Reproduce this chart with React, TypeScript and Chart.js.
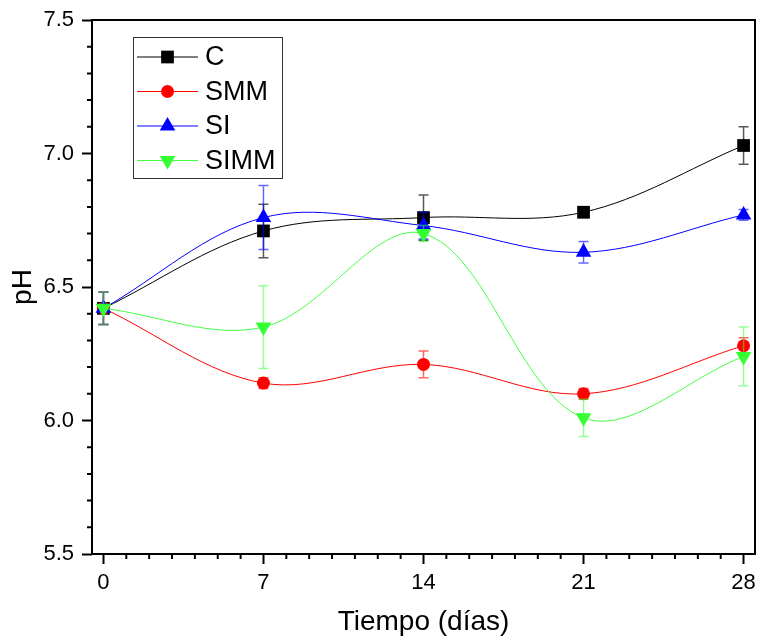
import React, { useEffect, useRef } from 'react';
import { Chart, registerables } from 'chart.js';

Chart.register(...registerables);

const days = [0, 7, 14, 21, 28];
const seriesNames = ['C', 'SMM', 'SI', 'SIMM'];
const cValues = [6.42, 6.71, 6.76, 6.78, 7.03];
const cErrors = [0.06, 0.1, 0.085, 0.02, 0.07];
const smmValues = [6.42, 6.14, 6.21, 6.1, 6.28];
const smmErrors = [0.06, 0.02, 0.05, 0.02, 0.03];
const siValues = [6.42, 6.76, 6.73, 6.63, 6.77];
const siErrors = [0.06, 0.12, 0.05, 0.04, 0.02];
const simmValues = [6.42, 6.35, 6.7, 6.01, 6.24];
const simmErrors = [0.06, 0.155, 0.03, 0.07, 0.11];
const xTicks = [0, 7, 14, 21, 28];
const yTicks = [5.5, 6.0, 6.5, 7.0, 7.5];

const lineColors = ['#000000', '#ff0000', '#0000ff', '#44ff44'];
const markerColors = ['#000000', '#ff0000', '#0000ff', '#33ff33'];
const errorColors = ['rgba(0,0,0,0.65)', 'rgba(255,0,0,0.6)', 'rgba(0,0,255,0.6)', 'rgba(60,255,60,0.55)'];
const pointStyles = ['rect', 'circle', 'triangle', 'triangle'];
const pointRadii = [9, 6.5, 9, 9];
const pointRotations = [0, 0, 0, 180];

const FONT = '"Liberation Sans", Arial, sans-serif';

const valueSets = [cValues, smmValues, siValues, simmValues];
const errorSets = [cErrors, smmErrors, siErrors, simmErrors];

function drawMarker(ctx: CanvasRenderingContext2D, idx: number, x: number, y: number) {
  ctx.fillStyle = markerColors[idx];
  ctx.beginPath();
  const r = pointRadii[idx];
  if (pointStyles[idx] === 'rect') {
    const s = r * Math.SQRT1_2;
    ctx.rect(x - s, y - s, 2 * s, 2 * s);
  } else if (pointStyles[idx] === 'circle') {
    ctx.arc(x, y, r, 0, Math.PI * 2);
  } else {
    const dir = pointRotations[idx] === 180 ? -1 : 1;
    for (let k = 0; k < 3; k++) {
      const ang = -Math.PI / 2 + (k * 2 * Math.PI) / 3;
      const px = x + Math.cos(ang) * r;
      const py = y + Math.sin(ang) * r * dir;
      if (k === 0) ctx.moveTo(px, py);
      else ctx.lineTo(px, py);
    }
    ctx.closePath();
  }
  ctx.fill();
}

const errorBarPlugin = {
  id: 'errorBars',
  afterDatasetDraw(chart: any, args: any) {
    const di = args.index;
    const { ctx, scales } = chart;
    const xs = scales.x;
    const ys = scales.y;
    const errs = errorSets[di];
    const vals = valueSets[di];
    ctx.save();
    ctx.strokeStyle = errorColors[di];
    ctx.lineWidth = 1.5;
    days.forEach((d, i) => {
      const px = xs.getPixelForValue(d);
      const yt = ys.getPixelForValue(vals[i] + errs[i]);
      const yb = ys.getPixelForValue(vals[i] - errs[i]);
      ctx.beginPath();
      ctx.moveTo(px, yt);
      ctx.lineTo(px, yb);
      ctx.moveTo(px - 5, yt);
      ctx.lineTo(px + 5, yt);
      ctx.moveTo(px - 5, yb);
      ctx.lineTo(px + 5, yb);
      ctx.stroke();
    });
    ctx.restore();
  },
};

const framePlugin = {
  id: 'frameLegend',
  afterDraw(chart: any) {
    const { ctx, chartArea: a, scales } = chart;
    const xs = scales.x;
    const ys = scales.y;
    ctx.save();
    ctx.strokeStyle = '#000';
    ctx.lineWidth = 2;
    ctx.strokeRect(a.left, a.top, a.right - a.left, a.bottom - a.top);
    ctx.beginPath();
    for (let v = 1; v < 28; v++) {
      if (v % 7 === 0) continue;
      const px = xs.getPixelForValue(v);
      ctx.moveTo(px, a.bottom);
      ctx.lineTo(px, a.bottom + 5);
    }
    for (let k = 1; k < 20; k++) {
      if (k % 5 === 0) continue;
      const v = 5.5 + k * 0.1;
      const py = ys.getPixelForValue(v);
      ctx.moveTo(a.left, py);
      ctx.lineTo(a.left - 5, py);
    }
    ctx.stroke();

    // legend
    const bx = 133, by = 37, bw = 149, bh = 141;
    ctx.fillStyle = '#fff';
    ctx.fillRect(bx, by, bw, bh);
    ctx.strokeStyle = '#333';
    ctx.lineWidth = 1;
    ctx.strokeRect(bx + 0.5, by + 0.5, bw, bh);
    seriesNames.forEach((name, i) => {
      const cy = 57 + i * 34.5;
      ctx.strokeStyle = lineColors[i];
      ctx.lineWidth = 1;
      ctx.beginPath();
      ctx.moveTo(137, cy);
      ctx.lineTo(198, cy);
      ctx.stroke();
      drawMarker(ctx, i, 167.5, cy);
      ctx.fillStyle = '#000';
      ctx.font = `27px ${FONT}`;
      ctx.textAlign = 'left';
      ctx.textBaseline = 'middle';
      ctx.fillText(name, 205, cy + 1);
    });
    ctx.restore();
  },
};

export default function App() {
  const ref = useRef<HTMLCanvasElement>(null);
  useEffect(() => {
    document.body.style.margin = '0';
    const datasets = seriesNames.map((name, i) => ({
      label: name,
      data: days.map((d, j) => ({ x: d, y: valueSets[i][j] })),
      borderColor: lineColors[i],
      backgroundColor: markerColors[i],
      borderWidth: 1,
      pointStyle: pointStyles[i],
      pointRadius: pointRadii[i],
      pointRotation: pointRotations[i],
      pointBorderWidth: 0,
      pointBackgroundColor: markerColors[i],
      tension: 0.35,
      fill: false,
      order: seriesNames.length - 1 - i,
    }));
    const chart = new Chart(ref.current!, {
      type: 'line',
      data: { datasets },
      plugins: [errorBarPlugin, framePlugin],
      options: {
        animation: false,
        responsive: false,
        layout: { autoPadding: false, padding: { top: 20, right: 2, left: 0, bottom: 0 } },
        plugins: { legend: { display: false }, tooltip: { enabled: false } },
        scales: {
          x: {
            type: 'linear',
            min: -0.5,
            max: 28.5,
            afterBuildTicks: (s: any) => {
              s.ticks = xTicks.map((v) => ({ value: v }));
            },
            afterFit: (s: any) => {
              s.height = 85;
              s.paddingLeft = 0;
              s.paddingRight = 0;
            },
            ticks: {
              color: '#000',
              font: { family: FONT, size: 22 },
              padding: 6,
              maxRotation: 0,
              autoSkip: false,
              callback: (v: any) => String(v),
            },
            grid: { display: true, drawOnChartArea: false, drawTicks: true, tickLength: 10, tickWidth: 2, tickColor: '#000' },
            border: { display: false },
            title: {
              display: true,
              text: 'Tiempo (días)',
              color: '#000',
              font: { family: FONT, size: 28 },
              padding: { top: 0, bottom: 0 },
            },
          },
          y: {
            type: 'linear',
            min: 5.5,
            max: 7.5,
            afterBuildTicks: (s: any) => {
              s.ticks = yTicks.map((v) => ({ value: v }));
            },
            afterFit: (s: any) => {
              s.width = 92;
              s.paddingTop = 0;
              s.paddingBottom = 0;
            },
            ticks: {
              color: '#000',
              font: { family: FONT, size: 22 },
              padding: 8,
              autoSkip: false,
              callback: (v: any) => Number(v).toFixed(1),
            },
            grid: { display: true, drawOnChartArea: false, drawTicks: true, tickLength: 10, tickWidth: 2, tickColor: '#000' },
            border: { display: false },
            title: {
              display: true,
              text: 'pH',
              color: '#000',
              font: { family: FONT, size: 28 },
              padding: { top: 6, bottom: 0 },
            },
          },
        },
      } as any,
    });
    return () => chart.destroy();
  }, []);
  return (
    <div style={{ position: 'fixed', left: 0, top: 0, width: 757, height: 639 }}>
      <canvas ref={ref} width={757} height={639} />
    </div>
  );
}
